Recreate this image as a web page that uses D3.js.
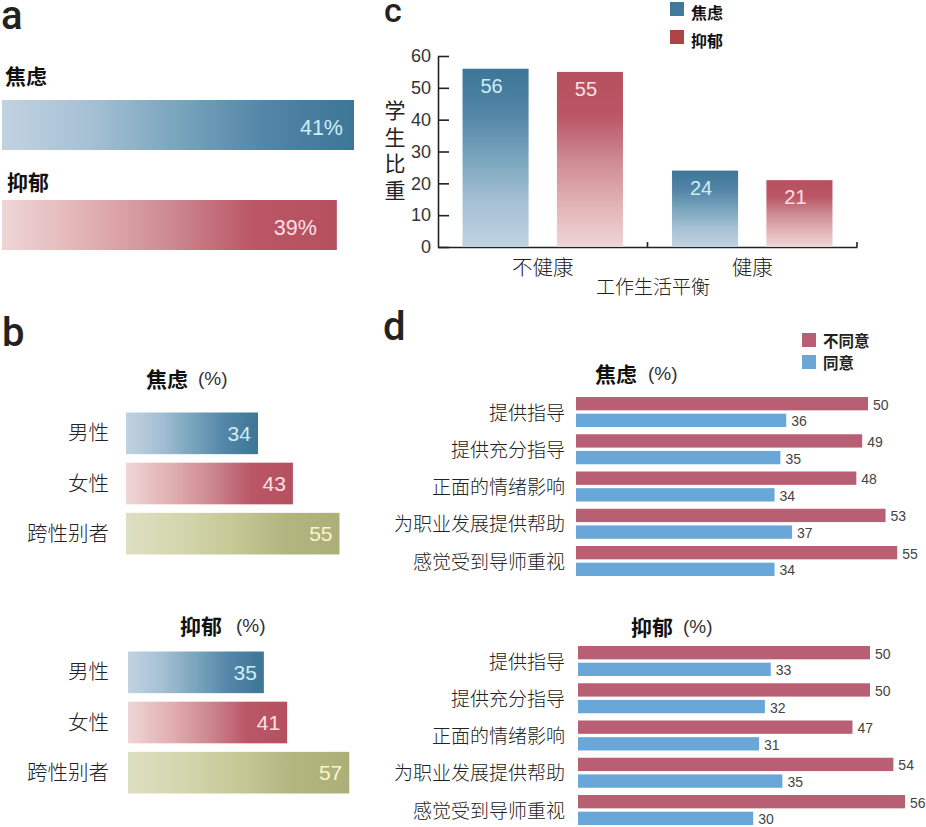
<!DOCTYPE html>
<html>
<head>
<meta charset="utf-8">
<script src="https://cdn.jsdelivr.net/npm/d3@7"></script>
<style>
  body { margin: 0; background: #fff; }
  svg { display: block; }
  text { font-family: "Noto Sans CJK SC", sans-serif; font-weight: 300; fill: #222; }
  .num { font-family: "Liberation Sans", sans-serif; font-weight: 400; }
  .letter { font-family: Roboto, sans-serif; font-weight: 500; font-size: 40px; fill: #222; }
  .title { font-weight: 700; fill: #111; }
</style>
</head>
<body>
<div id="chart"></div>
<script>
// panel a
const overallNames = ["焦虑", "抑郁"];
const overallValues = [41, 39];

// panel b
const genderNames = ["男性", "女性", "跨性别者"];
const genderAnxiety = [34, 43, 55];
const genderDepression = [35, 41, 57];

// panel c
const balanceNames = ["不健康", "健康"];
const balanceAnxiety = [56, 24];
const balanceDepression = [55, 21];
const balanceTicks = [0, 10, 20, 30, 40, 50, 60];

// panel d
const mentorNames = ["提供指导", "提供充分指导", "正面的情绪影响", "为职业发展提供帮助", "感觉受到导师重视"];
const anxietyDisagree = [50, 49, 48, 53, 55];
const anxietyAgree = [36, 35, 34, 37, 34];
const depressionDisagree = [50, 50, 47, 54, 56];
const depressionAgree = [33, 32, 31, 35, 30];
const agreeNames = ["不同意", "同意"];

const ramps = {
  blue: ["#c1d3e1", "#a6c0d4", "#79a5bd", "#5385a7", "#3d7696"],
  red: ["#efd6d6", "#e2b2b4", "#cd8a92", "#bb5666", "#b5505f"],
  olive: ["#dddfc2", "#d4d6ae", "#c6c896", "#b3b57f", "#adaf78"],
};
const textColor = { blue: "#cdeef5", red: "#fbe0e3", olive: "#f8f6d0" };
const rampNames = ["blue", "red", "olive"];

const svg = d3.select("#chart").append("svg").attr("width", 926).attr("height", 827);
svg.append("rect").attr("width", 926).attr("height", 827).attr("fill", "#fff");

const defs = svg.append("defs");
Object.keys(ramps).forEach((name) => {
  const stops = ramps[name];
  const offset = d3.scaleLinear().domain([0, stops.length - 1]).range([0, 1]);
  const add = (id, attrs) => {
    const grad = defs.append("linearGradient").attr("id", id);
    Object.keys(attrs).forEach((k) => grad.attr(k, attrs[k]));
    stops.forEach((c, i) => grad.append("stop").attr("offset", offset(i)).attr("stop-color", c));
  };
  add(`h-${name}`, { x1: 0, x2: 1, y1: 0, y2: 0 });
  add(`v-${name}`, { x1: 0, x2: 0, y1: 1, y2: 0 });
});

function letter(s, x, y, size) {
  svg.append("text").attr("class", "letter").attr("x", x).attr("y", y)
    .style("font-size", `${size || 40}px`).text(s);
}

function title(s, x, y, pctX) {
  svg.append("text").attr("class", "title").attr("x", x).attr("y", y)
    .attr("font-size", 21).attr("dominant-baseline", "central").text(s);
  svg.append("text").attr("class", "num").attr("x", pctX).attr("y", y)
    .attr("font-size", 19).style("fill", "#333")
    .attr("dominant-baseline", "central").text("(%)");
}

// panel a
function drawOverall() {
  letter("a", 1, 29);
  const x = d3.scaleLinear().domain([0, 41]).range([2, 354]);
  const y = d3.scaleBand().domain(overallNames).range([100, 250]).paddingInner(0.5);
  const g = svg.append("g");
  overallNames.forEach((name, i) => {
    const color = rampNames[i];
    g.append("rect").attr("x", x(0)).attr("y", y(name))
      .attr("width", x(overallValues[i]) - x(0)).attr("height", y.bandwidth())
      .attr("fill", `url(#h-${color})`);
    g.append("text").attr("class", "num").attr("x", x(overallValues[i]) - (i ? 20 : 11))
      .attr("y", y(name) + y.bandwidth() / 2 + 3).attr("text-anchor", "end")
      .attr("dominant-baseline", "central").attr("font-size", 21.5)
      .style("fill", textColor[color]).text(`${overallValues[i]}%`);
    g.append("text").attr("class", "title").attr("x", x(0) + 3 + i * 2)
      .attr("y", y(name) - (i ? 19 : 25)).attr("font-size", 21)
      .attr("dominant-baseline", "central").text(name);
  });
}

// panel b
function drawGender(values, x0, top) {
  const x = d3.scaleLinear().domain([0, 55]).range([x0, x0 + 213.5]);
  const y = d3.scaleBand().domain(genderNames).range([top, top + 142]).paddingInner(0.17).paddingOuter(0);
  const g = svg.append("g");
  genderNames.forEach((name, i) => {
    const color = rampNames[i];
    g.append("rect").attr("x", x(0)).attr("y", y(name))
      .attr("width", x(values[i]) - x(0)).attr("height", y.bandwidth())
      .attr("fill", `url(#h-${color})`);
    g.append("text").attr("class", "num").attr("x", x(values[i]) - 7)
      .attr("y", y(name) + y.bandwidth() / 2).attr("text-anchor", "end")
      .attr("dominant-baseline", "central").attr("font-size", 21)
      .style("fill", textColor[color]).text(values[i]);
    g.append("text").attr("x", 109).attr("y", y(name) + y.bandwidth() / 2 - 2)
      .attr("text-anchor", "end").attr("dominant-baseline", "central")
      .attr("font-size", 20.5).text(name);
  });
}

// panel c
function drawBalance() {
  letter("c", 384, 22, 34);
  const x0 = d3.scaleBand().domain(balanceNames).range([438, 857]);
  const x1 = d3.scaleBand().domain(overallNames).range([0, x0.bandwidth()])
    .paddingInner(0.3).paddingOuter(0.26);
  const y = d3.scaleLinear().domain([0, 60]).range([247, 56]);

  const yAxis = svg.append("g").attr("transform", `translate(${x0.range()[0]},0)`)
    .call(d3.axisLeft(y).tickValues(balanceTicks).tickSize(-11).tickSizeOuter(0).tickPadding(7));
  yAxis.selectAll("text").attr("class", "num").attr("font-size", 18).style("fill", "#333");
  yAxis.selectAll("line, path").attr("stroke", "#222").attr("stroke-width", 1.6);

  const xAxis = svg.append("g").attr("transform", `translate(0,${y(0)})`)
    .call(d3.axisBottom(x0).tickSize(0).tickSizeOuter(0).tickPadding(13));
  xAxis.selectAll("text").attr("font-size", 20.5);
  xAxis.selectAll("path").attr("stroke", "#222").attr("stroke-width", 1.6);
  // ticks sit on the group boundaries, not the band centres
  xAxis.selectAll(".edge").data(balanceNames.slice(1).concat("end")).join("line")
    .attr("class", "edge")
    .attr("x1", (d) => (d === "end" ? x0.range()[1] : x0(d)))
    .attr("x2", (d) => (d === "end" ? x0.range()[1] : x0(d)))
    .attr("y1", 0).attr("y2", -5).attr("stroke", "#222").attr("stroke-width", 1.6);

  const bars = [balanceAnxiety, balanceDepression];
  overallNames.forEach((series, s) => {
    const color = rampNames[s];
    balanceNames.forEach((name, i) => {
      const v = bars[s][i];
      const left = x0(name) + x1(series);
      svg.append("rect").attr("x", left).attr("y", y(v))
        .attr("width", x1.bandwidth()).attr("height", y(0) - y(v))
        .attr("fill", `url(#v-${color})`);
      svg.append("text").attr("class", "num").attr("x", left + x1.bandwidth() / 2 - 4)
        .attr("y", y(v) + 17).attr("text-anchor", "middle")
        .attr("dominant-baseline", "central").attr("font-size", 20)
        .style("fill", textColor[color]).text(v);
    });
  });

  svg.append("text").attr("x", 653).attr("y", 285).attr("text-anchor", "middle")
    .attr("dominant-baseline", "central").attr("font-size", 19).text("工作生活平衡");

  // vertical run, letter-spacing sets the gap between the characters
  svg.append("text").attr("x", 395).attr("y", 100).attr("font-size", 21)
    .style("writing-mode", "vertical-rl").style("text-orientation", "upright")
    .style("letter-spacing", "5.5px").style("font-weight", 400)
    .text("学生比重");

  const legend = ["#3f7a9b", "#ae4345"];
  overallNames.forEach((name, i) => {
    const ly = 2 + i * 28;
    svg.append("rect").attr("x", 670).attr("y", ly).attr("width", 14).attr("height", 14).attr("fill", legend[i]);
    svg.append("text").attr("class", "title").attr("x", 691).attr("y", ly + 10)
      .attr("font-size", 16).attr("dominant-baseline", "central").text(name);
  });
}

// panel d
function drawMentor(disagree, agree, x0, top) {
  const x = d3.scaleLinear().domain([0, 50]).range([x0, x0 + 292]);
  const y = d3.scaleBand().domain(mentorNames).range([top, top + 186.25]);
  const inner = d3.scaleBand().domain(agreeNames).range([0, 30]).paddingInner(0.2);
  const colors = d3.scaleOrdinal().domain(agreeNames).range(["#b85f74", "#69a7d8"]);
  const g = svg.append("g");
  mentorNames.forEach((name, i) => {
    [disagree[i], agree[i]].forEach((v, s) => {
      const key = agreeNames[s];
      const top2 = y(name) + inner(key);
      g.append("rect").attr("x", x(0)).attr("y", top2)
        .attr("width", x(v) - x(0)).attr("height", inner.bandwidth()).attr("fill", colors(key));
      g.append("text").attr("class", "num").attr("x", x(v) + 5).attr("y", top2 + inner.bandwidth() / 2 + 1)
        .attr("dominant-baseline", "central").attr("font-size", 14).style("fill", "#444").text(v);
    });
    g.append("text").attr("x", 565).attr("y", y(name) + 14).attr("text-anchor", "end")
      .attr("dominant-baseline", "central").attr("font-size", 19).text(name);
  });
}

function drawMentorLegend() {
  const colors = ["#b85f74", "#69a7d8"];
  agreeNames.forEach((name, i) => {
    const ly = 333 + i * 22;
    svg.append("rect").attr("x", 802).attr("y", ly).attr("width", 14).attr("height", 14).attr("fill", colors[i]);
    svg.append("text").attr("x", 823).attr("y", ly + 7).attr("font-size", 15.5).style("font-weight", 700)
      .attr("dominant-baseline", "central").text(name);
  });
}

drawOverall();

letter("b", 2, 346);
title(overallNames[0], 146, 378, 198);
drawGender(genderAnxiety, 126, 412.5);
title(overallNames[1], 180, 625, 236);
drawGender(genderDepression, 128, 651.5);

drawBalance();

letter("d", 383, 340);
drawMentorLegend();
title(overallNames[0], 595, 373, 648);
drawMentor(anxietyDisagree, anxietyAgree, 576, 397);
title(overallNames[1], 631, 626, 683);
drawMentor(depressionDisagree, depressionAgree, 578, 646);
</script>
</body>
</html>
